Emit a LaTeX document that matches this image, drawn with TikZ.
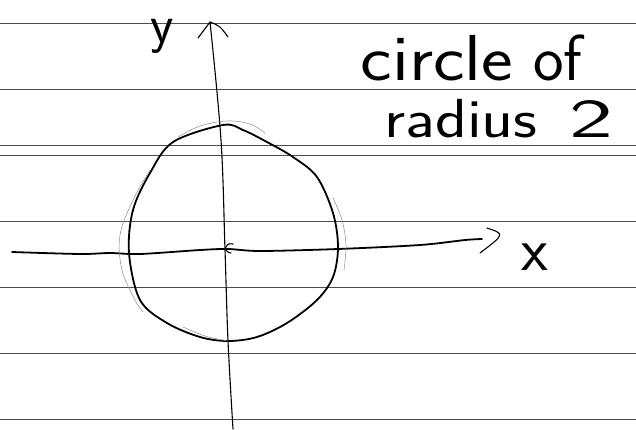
\documentclass[tikz,border=0pt]{standalone}
\tikzset{
  ruling/.style={draw=black!70, line width=1.0pt},
  ink/.style={draw=black, line width=1.8pt, line cap=round, line join=round},
  thinink/.style={draw=black, line width=1.1pt, line cap=round, line join=round},
  faint/.style={draw=black!45, line width=0.5pt, line cap=round},
  hand/.style={inner sep=0pt, anchor=base, font=\sffamily\fontsize{#1}{#1}\selectfont},
}
\begin{document}
\begin{tikzpicture}[x=1pt,y=-1pt]
\useasboundingbox (0,0) rectangle (636,429);
\fill[white] (0,0) rectangle (636,429);
% ruled paper
\foreach \yy in {23,89,145,155,221,287,353,419}
  \draw[ruling] (0,\yy) -- (636,\yy);
% axes end points
\coordinate (ytop) at (210,22);
\coordinate (ybot) at (233,429);
\coordinate (xleft) at (12,252);
\coordinate (xtip) at (482,239);
% y axis
\draw[thinink] plot[smooth, tension=0.6] coordinates {(ybot) (228,341) (225,250) (221,140) (ytop)};
\draw[thinink] (198,38) -- (ytop) .. controls (220,26) .. (228,37);
% x axis
\draw[ink] plot[smooth, tension=0.5] coordinates {(xleft) (80,254) (110,253) (140,254) (200,250) (228,249) (260,251) (338,249) (420,245) (465,240) (xtip)};
\draw[thinink] (487,228) .. controls (505,234) .. (480,253);
% circle (bold)
\draw[ink] plot[smooth cycle, tension=0.55] coordinates {
 (223,125) (243,130) (267,142) (293,157) (317,177) (333,213) (338,247)
 (333,277) (317,300) (287,323) (257,337) (228,341) (200,337) (167,323)
 (140,300) (129,253) (133,210) (150,173) (173,142)};
% faint first try
\draw[faint] plot[smooth, tension=0.6] coordinates {(150,170) (133,200) (120,235) (122,270) (135,300) (143,312)};
\draw[faint] plot[smooth, tension=0.6] coordinates {(178,137) (200,126) (227,121) (250,124) (265,133)};
\draw[faint] plot[smooth, tension=0.6] coordinates {(333,198) (342,220) (346,245) (344,270)};
\draw[faint] plot[smooth, tension=0.6] coordinates {(183,327) (205,336) (228,341)};
% origin mark
\draw[thinink] (233,244) .. controls (224,242) and (223,252) .. (231,253);
% labels
\node[hand=54] (ylab) at (162,42) {y};
\node[hand=62] (xlab) at (535,270) {x};
\node[hand=65, xscale=1.16] (circ) at (437,80) {circle};
\node[hand=65] (of) at (558,80) {of};
\node[hand=55, xscale=1.2] (rad) at (461,137) {radius};
\node[hand=55, xscale=1.7] (two) at (591,137) {2};
\end{tikzpicture}
\end{document}
